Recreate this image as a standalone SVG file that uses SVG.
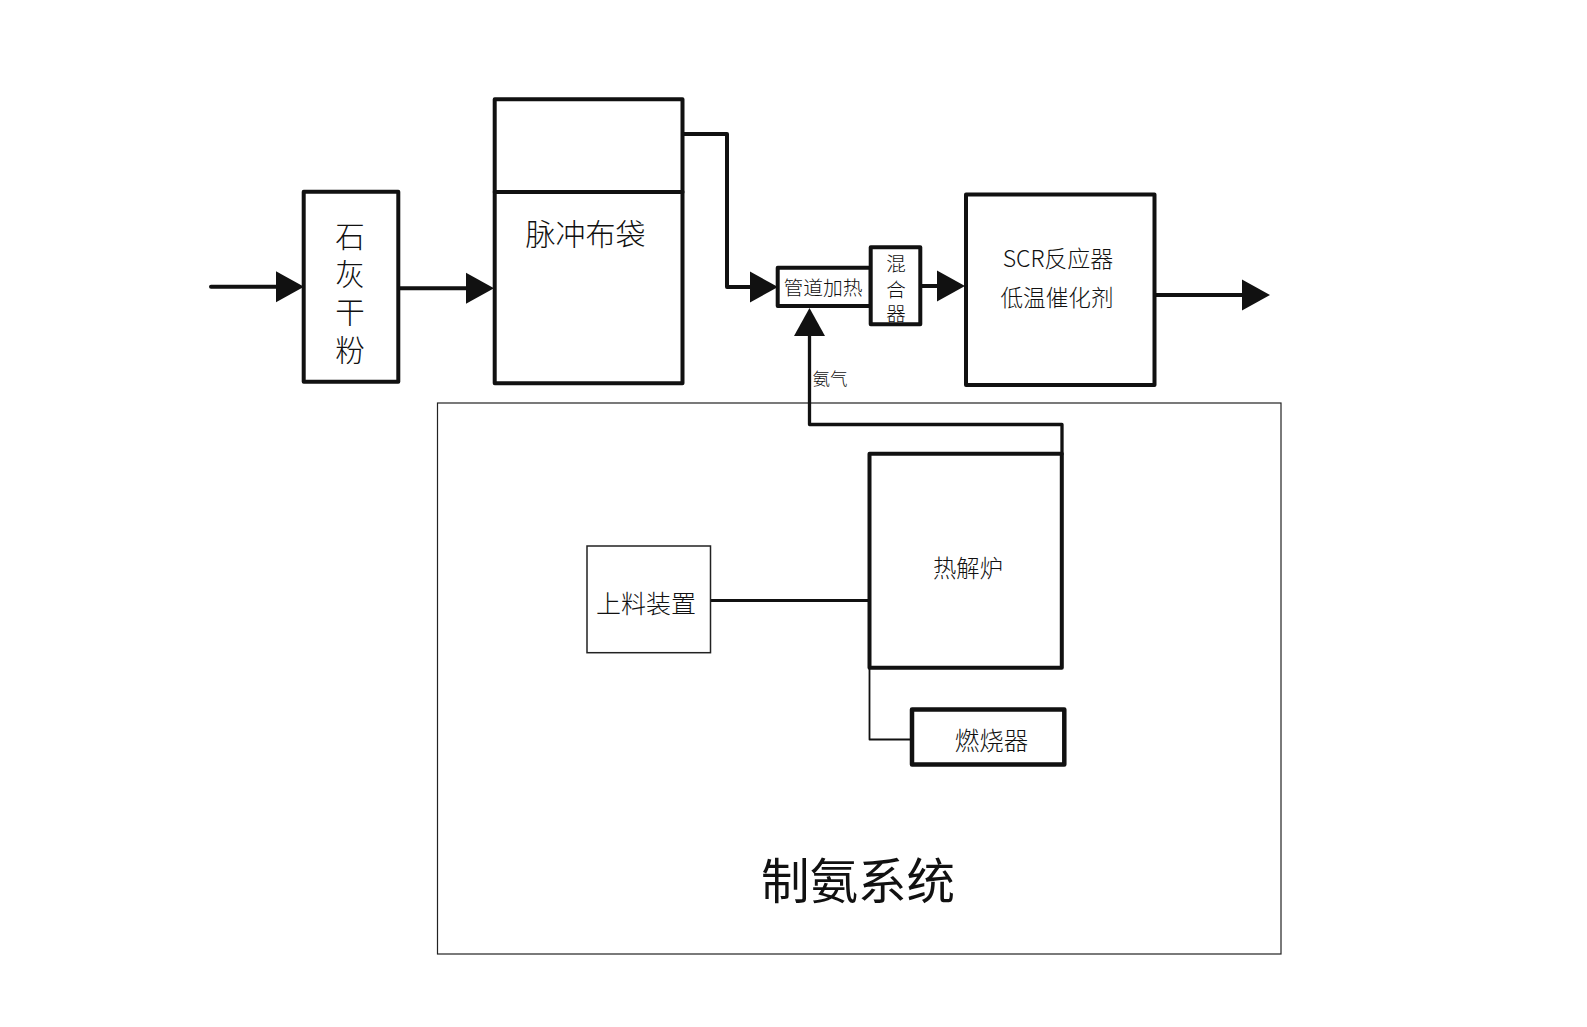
<svg xmlns="http://www.w3.org/2000/svg" width="1587" height="1027" viewBox="0 0 1587 1027">
<style>
text{font-family:"Noto Sans CJK SC","Noto Sans",sans-serif;fill:#111;font-weight:300;text-anchor:middle}
.b{fill:#fff;stroke:#111;stroke-width:4;stroke-linejoin:round}
.c{fill:none;stroke:#111;stroke-width:4;stroke-linejoin:round;stroke-linecap:round}
</style>
<defs><marker id="a" markerUnits="userSpaceOnUse" markerWidth="28" markerHeight="32" refX="2" refY="16" orient="auto"><path d="M0 0.500L28 16L0 31.500Z" fill="#111"/></marker></defs>
<rect width="1587" height="1027" fill="#fff"/>
<g id="system"><rect x="437.500" y="403" width="843.500" height="551" fill="#fff" stroke="#222" stroke-width="1.200"/><text x="858" y="899" font-size="48.500" style="font-weight:400">制氨系统</text></g>
<g id="connectors">
<path class="c" d="M211 286.700H278" marker-end="url(#a)"/>
<path class="c" d="M398 288.300H468" marker-end="url(#a)"/>
<path class="c" d="M682 134H727V287H752" marker-end="url(#a)"/>
<path class="c" d="M920 286H939" marker-end="url(#a)"/>
<path class="c" d="M1154 295H1244" marker-end="url(#a)"/>
<path class="c" style="stroke-width:3.300" d="M1062 454V424.500H809.500V334" marker-end="url(#a)"/>
<path class="c" style="stroke-width:3" d="M711 600.500H870"/>
<path class="c" style="stroke-width:1.800" d="M869.500 668V739.500H912"/>
</g>
<g id="n1"><rect class="b" x="303.700" y="191.700" width="94.600" height="190"/><text x="350" font-size="29.500"><tspan x="350" y="247">石</tspan><tspan x="350" y="285">灰</tspan><tspan x="350" y="323">干</tspan><tspan x="350" y="361">粉</tspan></text></g>
<g id="n2"><rect class="b" x="494.700" y="99.200" width="187.800" height="284"/><path class="c" d="M494.700 192H682.500"/><text x="585.500" y="245" font-size="30">脉冲布袋</text></g>
<g id="n3"><rect class="b" x="777.700" y="267.700" width="93" height="38.300"/><text x="823" y="295" font-size="19.800">管道加热</text></g>
<g id="n4"><rect class="b" x="870.700" y="247.300" width="49.600" height="77"/><text x="896" font-size="19.500"><tspan x="896" y="270.500">混</tspan><tspan x="896" y="296.500">合</tspan><tspan x="896" y="321">器</tspan></text></g>
<g id="n5"><rect class="b" x="966" y="194.500" width="188.500" height="190.500"/><text x="1058" y="267" font-size="23">SCR反应器</text><text x="1057" y="306" font-size="22.600">低温催化剂</text></g>
<g id="n6"><text x="830" y="385" font-size="17.500">氨气</text></g>
<g id="n7"><rect class="b" x="869.500" y="453.700" width="192.300" height="214"/><text x="968" y="577" font-size="23.300">热解炉</text></g>
<g id="n8"><rect x="587" y="546" width="123.500" height="106.700" fill="#fff" stroke="#222" stroke-width="1.500"/><text x="646" y="613" font-size="25">上料装置</text></g>
<g id="n9"><rect class="b" style="stroke-width:4.500" x="912" y="709.500" width="152.300" height="55"/><text x="991.500" y="750" font-size="24.500">燃烧器</text></g>
</svg>
